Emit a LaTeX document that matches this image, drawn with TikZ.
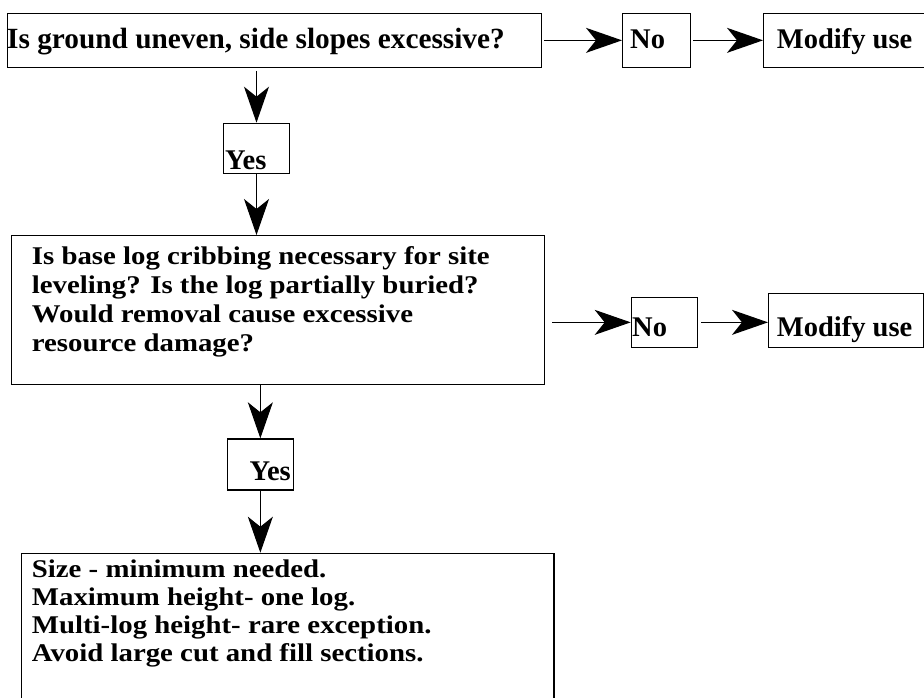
\documentclass[tikz,border=0pt]{standalone}
\usepackage{fontspec}
\usepackage{graphicx}
\setmainfont{Liberation Serif}
\usetikzlibrary{arrows.meta}
\newcommand{\mywide}[1]{\scalebox{1.13}[1]{#1}}
\tikzset{
  box/.style={draw, line width=1.3pt, inner sep=0pt, anchor=north west},
  conn/.style={line width=1.1pt, -{Stealth[length=36pt,width=25pt,inset=10pt]}},
  lbl/.style={inner sep=0pt, anchor=base west, font=\bfseries\fontsize{28.5}{32}\selectfont},
  toplbl/.style={inner sep=0pt, anchor=base west, font=\bfseries\fontsize{29.3}{32}\selectfont},
  linelbl/.style={inner sep=0pt, anchor=base west, font=\bfseries\fontsize{25.5}{28}\selectfont},
}
\begin{document}
\begin{tikzpicture}[x=1pt,y=-1pt]
\useasboundingbox[fill=white] (0,0) rectangle (924,698);
% boxes
\node[box, minimum width=534.3pt, minimum height=54pt] (top) at (6.7,12.7) {};
\node[box, minimum width=68pt, minimum height=54pt] (no1) at (622,12.7) {};
\node[box, minimum width=165pt, minimum height=54pt] (mod1) at (763,12.7) {};
\node[box, minimum width=66.3pt, minimum height=50pt] (yes1) at (222.7,122.7) {};
\node[box, minimum width=533.3pt, minimum height=149pt] (box2) at (10.7,235) {};
\node[box, minimum width=66.3pt, minimum height=50pt] (no2) at (630.7,296.7) {};
\node[box, minimum width=155pt, minimum height=53.7pt] (mod2) at (768,293) {};
\node[box, minimum width=66pt, minimum height=51pt] (yes2) at (226.7,438.3) {};
\node[box, minimum width=532.6pt, minimum height=150pt] (bot) at (20.7,552.7) {};
% texts
\node[toplbl] (ttop) at (7,48.3) {Is ground uneven, side slopes excessive?};
\node[lbl] (tno1) at (630,48.3) {No};
\node[lbl] (tmod1) at (776.7,48.3) {Modify use};
\node[lbl] (tyes1) at (225,169) {Yes};
\node[linelbl] (tb1) at (31.7,264) {\mywide{Is base log cribbing necessary for site}};
\node[linelbl] (tb2) at (31.7,293) {\mywide{leveling? Is the log partially buried?}};
\node[linelbl] (tb3) at (31.7,322) {\mywide{Would removal cause excessive}};
\node[linelbl] (tb4) at (31.7,351) {\mywide{resource damage?}};
\node[lbl] (tno2) at (632,336.7) {No};
\node[lbl] (tmod2) at (776.7,336.7) {Modify use};
\node[lbl, anchor=base east] (tyes2) at (291,480) {Yes};
\node[linelbl] (tc1) at (31.7,577) {\mywide{Size - minimum needed.}};
\node[linelbl] (tc2) at (31.7,605) {\mywide{Maximum height- one log.}};
\node[linelbl] (tc3) at (31.7,633) {\mywide{Multi-log height- rare exception.}};
\node[linelbl] (tc4) at (31.7,661) {\mywide{Avoid large cut and fill sections.}};
% connectors
\draw[conn, shorten <=2pt] (top.east) -- (no1.west);
\draw[conn, shorten <=2pt] (no1.east) -- (mod1.west);
\draw[conn, shorten <=3pt] (top.south -| yes1.north) -- (yes1.north);
\draw[conn] (yes1.south) -- (yes1.south |- box2.north);
\draw[conn] (yes2.north |- box2.south) -- (yes2.north);
\draw[conn] (yes2.south) -- (yes2.south |- bot.north);
\draw[conn, shorten <=7pt] (no2.west -| box2.east) -- (no2.west);
\draw[conn, shorten <=3pt] (no2.east) -- (no2.east -| mod2.west);
\end{tikzpicture}
\end{document}
